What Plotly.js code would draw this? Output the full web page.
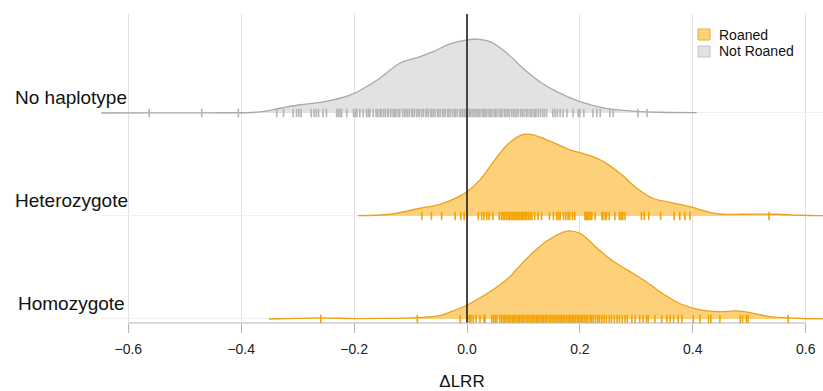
<!DOCTYPE html>
<html><head><meta charset="utf-8">
<script src="https://cdn.plot.ly/plotly-3.0.1.min.js"></script>
<style>html,body{margin:0;padding:0;background:#fff}#chart{width:823px;height:391px}</style>
</head><body><div id="chart"></div>
<script>
// ---- data ----
const categories = ['Homozygote', 'Heterozygote', 'No haplotype'];
const statusNames = ['Roaned', 'Not Roaned'];
const xTickVals = [-0.6, -0.4, -0.2, 0, 0.2, 0.4, 0.6];
const xTickText = ['\u22120.6', '\u22120.4', '\u22120.2', '0.0', '0.2', '0.4', '0.6'];
const xTitle = '\u0394LRR';

// scaled density ridges (x = ΔLRR, d = ridge height in category spacings)
const noHapX = [-0.648, -0.55, -0.45, -0.367, -0.331, -0.296, -0.265, -0.243, -0.202, -0.159, -0.119, -0.083, -0.060, -0.030, 0.0, 0.019, 0.041, 0.071, 0.099, 0.129, 0.159, 0.200, 0.248, 0.294, 0.342, 0.407];
const noHapD = [0.0, 0.001, 0.002, 0.010, 0.046, 0.080, 0.100, 0.119, 0.185, 0.320, 0.483, 0.547, 0.595, 0.670, 0.709, 0.718, 0.692, 0.580, 0.434, 0.304, 0.207, 0.110, 0.042, 0.019, 0.007, 0.003];

const hetX = [-0.193, -0.136, -0.083, -0.048, -0.021, 0.0, 0.023, 0.046, 0.071, 0.094, 0.112, 0.135, 0.165, 0.182, 0.200, 0.218, 0.241, 0.271, 0.301, 0.329, 0.360, 0.395, 0.430, 0.453, 0.507, 0.549, 0.595, 0.631, 0.66];
const hetD = [0.003, 0.017, 0.075, 0.113, 0.171, 0.236, 0.350, 0.520, 0.689, 0.780, 0.793, 0.754, 0.683, 0.641, 0.615, 0.585, 0.530, 0.414, 0.269, 0.172, 0.133, 0.090, 0.036, 0.017, 0.019, 0.017, 0.007, 0.003, 0.001];

const homX = [-0.351, -0.30, -0.260, -0.202, -0.150, -0.089, -0.048, -0.025, 0.0, 0.035, 0.058, 0.076, 0.089, 0.112, 0.142, 0.177, 0.200, 0.230, 0.259, 0.289, 0.319, 0.347, 0.377, 0.407, 0.443, 0.478, 0.507, 0.537, 0.585, 0.631, 0.66];
const homD = [0.0, 0.005, 0.010, 0.004, 0.005, 0.013, 0.032, 0.078, 0.136, 0.245, 0.330, 0.410, 0.490, 0.620, 0.760, 0.854, 0.832, 0.690, 0.560, 0.460, 0.355, 0.245, 0.150, 0.096, 0.071, 0.078, 0.055, 0.022, 0.007, 0.002, 0.001];

// rug of individual ΔLRR values
const noHapRug = [-0.563, -0.470, -0.405, -0.337, -0.325, -0.308, -0.302, -0.298, -0.294, -0.276, -0.271, -0.267, -0.263, -0.255, -0.249, -0.231, -0.228, -0.225, -0.222, -0.213, -0.201, -0.198, -0.195, -0.190, -0.184, -0.178, -0.175, -0.172, -0.166,
  -0.161, -0.158, -0.154, -0.152, -0.148, -0.145, -0.141, -0.139, -0.135, -0.131, -0.128, -0.126, -0.122, -0.119, -0.114, -0.111, -0.108, -0.105, -0.102, -0.098, -0.096, -0.093, -0.089, -0.086, -0.084, -0.080, -0.077, -0.073, -0.071, -0.068, -0.064, -0.062, -0.059, -0.056, -0.052, -0.050, -0.047, -0.043, -0.041, -0.038, -0.034, -0.032, -0.029, -0.025, -0.022, -0.020, -0.017, -0.013, -0.011, -0.008, -0.005, -0.002,
  0.001, 0.004, 0.006, 0.009, 0.012, 0.015, 0.018, 0.021, 0.023, 0.027, 0.030, 0.032, 0.035, 0.039, 0.041, 0.044, 0.048, 0.050, 0.053, 0.057, 0.060, 0.062, 0.066, 0.069, 0.072, 0.075, 0.079, 0.082, 0.085, 0.088, 0.091, 0.095, 0.098, 0.101, 0.105, 0.108, 0.112, 0.115, 0.119, 0.122, 0.126, 0.130, 0.134, 0.137, 0.141,
  0.152, 0.156, 0.160, 0.165, 0.170, 0.177, 0.188, 0.197, 0.200, 0.207, 0.223, 0.230, 0.236, 0.253, 0.259, 0.303, 0.319];

const hetRug = [-0.080, -0.063, -0.045, -0.021, -0.011, -0.005, 0.020, 0.026, 0.030, 0.035, 0.039, 0.046, 0.057, 0.061, 0.064, 0.067, 0.070, 0.073, 0.075, 0.078, 0.080, 0.083, 0.085, 0.087, 0.090, 0.092, 0.094, 0.097, 0.099, 0.101, 0.104, 0.106, 0.109, 0.112, 0.115, 0.120, 0.126, 0.132, 0.146, 0.153, 0.159, 0.162, 0.165, 0.171, 0.175, 0.179, 0.182, 0.187, 0.191, 0.209, 0.211, 0.213, 0.216, 0.218, 0.221, 0.227, 0.239, 0.241, 0.245, 0.247, 0.252, 0.262, 0.270, 0.273, 0.276, 0.280, 0.309, 0.314, 0.322, 0.343, 0.367, 0.377, 0.386, 0.395, 0.535];

const homRug = [-0.259, -0.088, -0.012, 0.004, 0.007, 0.011, 0.016, 0.023, 0.030, 0.032, 0.044, 0.047, 0.050, 0.053, 0.058, 0.061,
  0.064, 0.067, 0.069, 0.072, 0.075, 0.077, 0.080, 0.083, 0.085, 0.088, 0.091, 0.093, 0.096, 0.099, 0.101, 0.104, 0.107, 0.109, 0.112, 0.115, 0.117, 0.120, 0.123, 0.125, 0.128, 0.131, 0.133, 0.136, 0.139, 0.141, 0.144, 0.147, 0.149, 0.152, 0.155, 0.157, 0.160, 0.163, 0.165, 0.168, 0.171, 0.173, 0.176, 0.179, 0.181, 0.184, 0.187, 0.189, 0.192, 0.195, 0.197, 0.200, 0.203, 0.205, 0.208, 0.211, 0.214, 0.218, 0.221, 0.224, 0.228, 0.232, 0.235, 0.239, 0.243, 0.247, 0.252, 0.256, 0.261, 0.266, 0.270, 0.275, 0.280, 0.284,
  0.292, 0.298, 0.306, 0.312, 0.318, 0.321, 0.333, 0.345, 0.354, 0.360, 0.366, 0.374, 0.381, 0.401, 0.413, 0.428, 0.432, 0.448, 0.484, 0.488, 0.495, 0.498, 0.569];

// ---- styling ----
const FONT = 'Liberation Sans, Arial, Helvetica, sans-serif';
const styles = {
  'Roaned':     {fill: 'rgba(253,209,122,1)', line: '#E8A21C', rug: '#F5A300', box: '#F0AA2A'},
  'Not Roaned': {fill: 'rgba(226,226,226,1)', line: '#A8A8A8', rug: '#B5B5B5', box: '#C4C4C4'}
};
const ridges = [
  {cat: 'No haplotype', status: 'Not Roaned', x: noHapX, d: noHapD, rug: noHapRug},
  {cat: 'Heterozygote', status: 'Roaned', x: hetX, d: hetD, rug: hetRug},
  {cat: 'Homozygote',   status: 'Roaned', x: homX, d: homD, rug: homRug}
];

const traces = [];
ridges.forEach(r => {
  const base = categories.indexOf(r.cat);
  const st = styles[r.status];
  traces.push({x: r.x, y: r.x.map(() => base), mode: 'lines', line: {width: 0, color: 'rgba(0,0,0,0)'}, showlegend: false, hoverinfo: 'skip'});
  traces.push({x: r.x, y: r.d.map(v => base + v), mode: 'lines', fill: 'tonexty', fillcolor: st.fill,
    line: {color: st.line, width: 1.3, shape: 'spline', smoothing: 1}, showlegend: false, name: r.cat});
  traces.push({x: r.rug, y: r.rug.map(() => base), mode: 'markers', showlegend: false,
    marker: {symbol: 'line-ns-open', size: 6, color: st.rug, line: {color: st.rug, width: 1.6}}});
});

// pixel geometry
const W = 823, H = 391, M = {l: 101, r: 0, t: 14, b: 68};
const PW = W - M.l - M.r, PH = H - M.t - M.b;
const px = v => (v - M.l) / PW;
const py = v => (H - M.b - v) / PH;
function px2x(p) { return (p - 467) / 564.5; }

const shapes = [
  {type: 'line', xref: 'x', yref: 'paper', x0: 0, x1: 0, y0: 0, y1: 1, line: {color: '#111', width: 1.5}, layer: 'above'},
  {type: 'line', xref: 'x', yref: 'paper', x0: xTickVals[0], x1: xTickVals[xTickVals.length - 1], y0: 0, y1: 0, line: {color: '#b4b4b4', width: 1.2}, layer: 'above'}
];
const annotations = [];
categories.forEach((c, i) => {
  annotations.push({text: c, xref: 'paper', yref: 'y', x: px(71), y: i, yshift: 15.5, xanchor: 'center', yanchor: 'middle',
    showarrow: false, font: {family: FONT, size: 19, color: '#111'}});
});
statusNames.forEach((s, i) => {
  const top = 29 + i * 17;
  shapes.push({type: 'rect', xref: 'paper', yref: 'paper', x0: px(698), x1: px(710), y0: py(top), y1: py(top + 11),
    fillcolor: styles[s].fill, line: {color: styles[s].box, width: 1}});
  annotations.push({text: s, xref: 'paper', yref: 'paper', x: px(717), y: py(top + 5.5), xanchor: 'left', yanchor: 'middle',
    showarrow: false, font: {family: FONT, size: 14, color: '#111'}});
});

const layout = {
  width: W, height: H, margin: M, paper_bgcolor: '#fff', plot_bgcolor: '#fff',
  font: {family: FONT, size: 14, color: '#222'},
  showlegend: false,
  xaxis: {range: [px2x(M.l), px2x(W - M.r)], tickvals: xTickVals, ticktext: xTickText, showgrid: true, gridcolor: '#e2e2e2', gridwidth: 1,
    zeroline: false, showline: false, ticks: 'outside', ticklen: 9, tickcolor: '#b4b4b4', tickwidth: 1,
    ticklabelstandoff: 4,
    tickfont: {family: FONT, size: 14, color: '#222'},
    title: {text: xTitle, font: {family: FONT, size: 17, color: '#111'}, standoff: 19}},
  yaxis: {range: [-0.039, 2.961], tickvals: [0, 1, 2], showticklabels: false, showgrid: true, gridcolor: '#efefef', gridwidth: 1,
    zeroline: false, showline: false, ticks: ''},
  shapes: shapes, annotations: annotations
};

Plotly.newPlot('chart', traces, layout, {staticPlot: true, displayModeBar: false});
</script></body></html>
